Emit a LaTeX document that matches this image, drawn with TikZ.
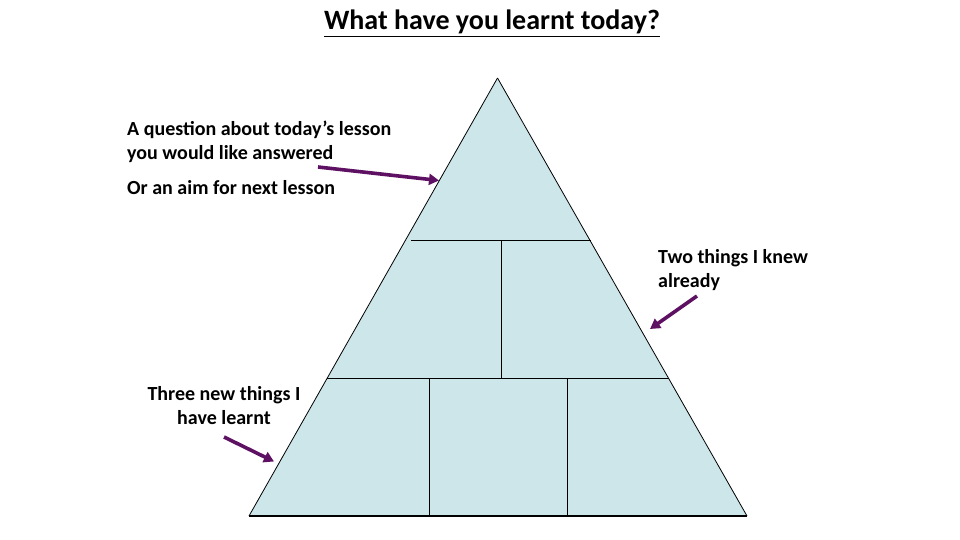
\documentclass[tikz,border=0pt]{standalone}
\usepackage{fontspec}
\setmainfont{Carlito}
\usetikzlibrary{arrows.meta}
\definecolor{pyrfill}{HTML}{CDE6EA}
\definecolor{arrpurple}{HTML}{5E1062}
\tikzset{
  x=1pt, y=-1pt,
  lbl/.style={font=\fontsize{20}{23.5}\selectfont\bfseries, inner sep=0pt, anchor=north west, align=left},
  parrow/.style={draw=arrpurple, line width=3.6pt, -{Triangle[length=10pt,width=11pt]}},
  divline/.style={draw=black, line width=1.1pt}
}
\begin{document}
\begin{tikzpicture}
\useasboundingbox (0,0) rectangle (960,540);
% pyramid
\coordinate (apex) at (497.5,78);
\coordinate (bl) at (249,516);
\coordinate (br) at (747,516);
\fill[pyrfill] (apex) -- (bl) -- (br) -- cycle;
\draw[line width=0.8pt] (apex) -- (bl);
\draw[line width=0.8pt] (apex) -- (br);
\draw[divline] (bl) -- (br);
% dividers
\coordinate (h1l) at (411,240.3);
\coordinate (h1r) at (590.5,240.3);
\coordinate (h2l) at (327,378.3);
\coordinate (h2r) at (668.5,378.3);
\draw[divline] (h1l) -- (h1r);
\draw[divline] (h2l) -- (h2r);
\coordinate (v1t) at (501.3,240.3);
\coordinate (v1b) at (501.3,378.3);
\draw[divline] (v1t) -- (v1b);
\coordinate (v2t) at (429.5,378.3);
\coordinate (v2b) at (429.5,516);
\coordinate (v3t) at (567.3,378.3);
\coordinate (v3b) at (567.3,516);
\draw[divline] (v2t) -- (v2b);
\draw[divline] (v3t) -- (v3b);
% title
\node[font=\fontsize{28}{32}\selectfont\bfseries, inner sep=0pt, anchor=base] (title) at (492,30) {\underline{What have you learnt today?}};
% labels
\node[lbl] (q) at (127,121) {A question about today’s lesson\\you would like answered};
\node[lbl] (aim) at (127,180) {Or an aim for next lesson};
\node[lbl, font=\fontsize{20}{24}\selectfont\bfseries] (two) at (658,249) {Two things I knew\\already};
\node[lbl, font=\fontsize{20}{24}\selectfont\bfseries, align=center, anchor=north] (three) at (224,386) {Three new things I\\have learnt};
% arrows
\coordinate (a1s) at (318,167);
\coordinate (a1e) at (439,180.5);
\draw[parrow] (a1s) -- (a1e);
\coordinate (a2s) at (697,296);
\coordinate (a2e) at (650,329);
\draw[parrow] (a2s) -- (a2e);
\coordinate (a3s) at (224,437);
\coordinate (a3e) at (274,461.5);
\draw[parrow] (a3s) -- (a3e);
\end{tikzpicture}
\end{document}
